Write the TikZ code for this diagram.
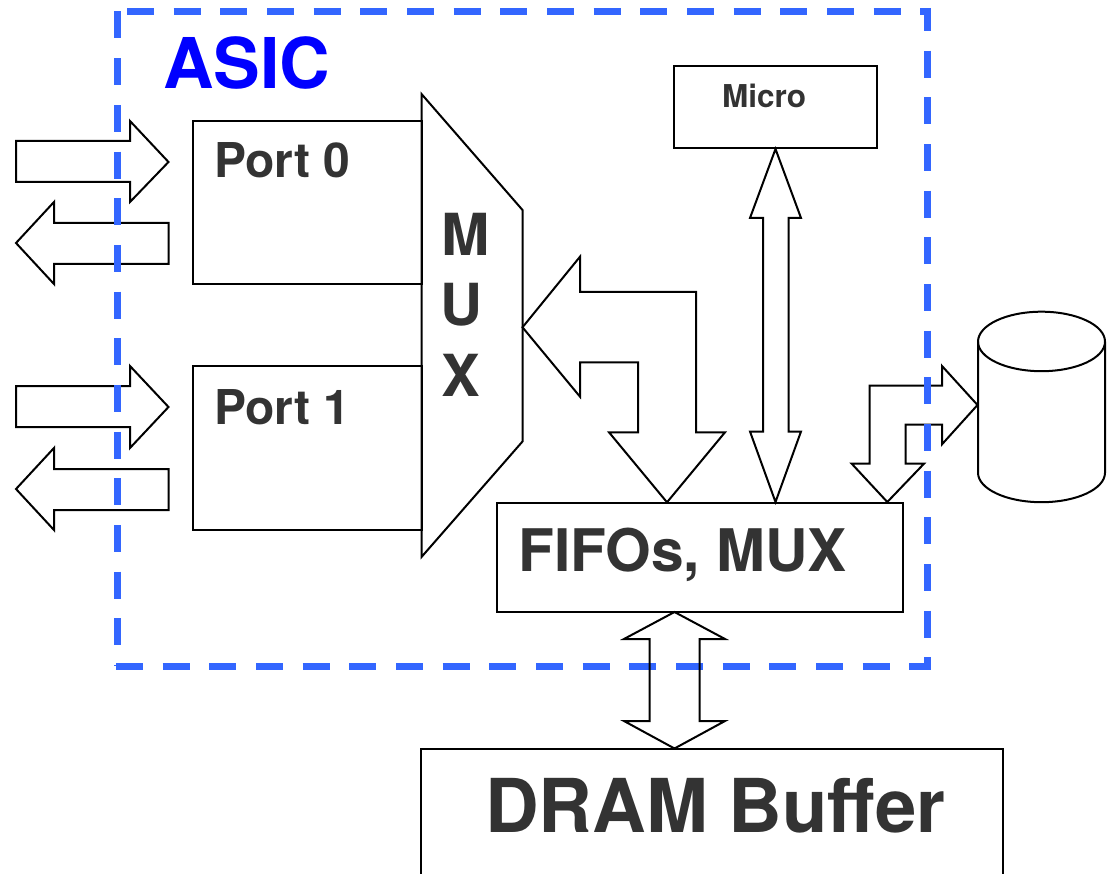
\documentclass[tikz,border=0pt]{standalone}
\usepackage{fontspec}
\setmainfont{TeX Gyre Heros}
\definecolor{txt}{HTML}{333333}
\definecolor{dashblue}{HTML}{3366FF}
\definecolor{asicblue}{HTML}{0000FF}
\tikzset{
  outline/.style={draw=black,line width=2pt,line join=miter},
  boxnode/.style={outline,rectangle,inner sep=0pt},
  frameline/.style={draw=dashblue,line width=7pt,dash pattern=on 27pt off 19.67pt},
  label/.style={anchor=base west,inner sep=0pt,text=txt},
  muxletter/.style={anchor=base,inner sep=0pt,text=txt,font=\bfseries\fontsize{58}{58}\selectfont}
}
\begin{document}
\begin{tikzpicture}[x=1pt,y=-1pt]
\useasboundingbox (0,0) rectangle (1108,874);
\clip (0,0) rectangle (1108,874);
% left arrows
\draw[outline] (16,141) -- (130,141) -- (130,121) -- (168.5,162) -- (130,202) -- (130,182) -- (16,182) -- cycle;
\draw[outline] (16,243) -- (54,202) -- (54,223) -- (168.5,223) -- (168.5,264) -- (54,264) -- (54,284) -- cycle;
\draw[outline] (16,386) -- (130,386) -- (130,366) -- (168.5,407) -- (130,448) -- (130,427) -- (16,427) -- cycle;
\draw[outline] (16,489) -- (54,448) -- (54,469) -- (168.5,469) -- (168.5,510) -- (54,510) -- (54,530) -- cycle;
% disk arrow
\draw[outline] (977.5,405) -- (942,366) -- (942,385.7) -- (869.7,385.7) -- (869.7,463.7) -- (851.7,463.7) -- (887.3,502) -- (924,463.7) -- (905.7,463.7) -- (905.7,424.7) -- (942,424.7) -- (942,444.3) -- cycle;
% dashed frame
\draw[frameline] (117.5,11.5) -- (117.5,666);
\draw[frameline] (127,11.5) -- (931,11.5);
\draw[frameline,dash phase=4pt] (927.5,8) -- (927.5,670);
\draw[frameline] (116,666.5) -- (931,666.5);
% boxes
\node[boxnode,minimum width=228.5pt,minimum height=163pt] (port0) at (307.25,202.5) {};
\node[boxnode,minimum width=228.5pt,minimum height=164pt] (port1) at (307.25,448) {};
\node[boxnode,minimum width=203pt,minimum height=82pt] (micro) at (775.5,107) {};
\node[boxnode,minimum width=405.5pt,minimum height=109.5pt] (fifo) at (699.75,557.25) {};
\node[boxnode,minimum width=582pt,minimum height=166pt] (dram) at (712,831.5) {};
% mux
\draw[outline] (421.5,94) -- (522.5,210) -- (522.5,441.5) -- (421.5,557) -- cycle;
% MUX-FIFO arrow
\draw[outline] (522.5,327.3) -- (580,256.7) -- (580,292) -- (696,292) -- (696,432.3) -- (725,432.3) -- (667,502.3) -- (609,432.3) -- (638,432.3) -- (638,362.5) -- (580,362.5) -- (580,396.7) -- cycle;
% micro-FIFO arrow
\draw[outline] (775.5,149) -- (801,218) -- (788.5,218) -- (788.5,431.5) -- (801,431.5) -- (775.5,502) -- (750,431.5) -- (763,431.5) -- (763,218) -- (750,218) -- cycle;
% FIFO-DRAM arrow
\draw[outline] (674.5,612) -- (725,639) -- (699.5,639) -- (699.5,721) -- (725,721) -- (674.5,748.5) -- (624,721) -- (649.5,721) -- (649.5,639) -- (624,639) -- cycle;
% disk
\draw[outline] (978,341.7) arc[start angle=180,end angle=360,x radius=63.5,y radius=-29.5];
\draw[outline] (978,341.7) arc[start angle=180,end angle=0,x radius=63.5,y radius=-30] -- (1105,472.7) arc[start angle=0,end angle=-180,x radius=63.5,y radius=-29.5] -- cycle;
% texts
\node[anchor=base west,inner sep=0pt,text=asicblue,font=\bfseries\fontsize{70}{70}\selectfont] (asic) at (163,89) {ASIC};
\node[label,font=\bfseries\fontsize{48}{48}\selectfont] (t0) at (214,178) {Port 0};
\node[label,font=\bfseries\fontsize{48}{48}\selectfont] (t1) at (214,424) {Port 1};
\node[label,font=\bfseries\fontsize{31.5}{31.5}\selectfont] (tm) at (722,108) {Micro};
\node[label,font=\bfseries\fontsize{58.7}{58.7}\selectfont] (tf) at (518,571) {FIFOs, MUX};
\node[label,font=\bfseries\fontsize{74.3}{74.3}\selectfont] (td) at (485,832) {DRAM Buffer};
\node[muxletter] (m1) at (465.5,256) {M};
\node[muxletter] (m2) at (461.5,326) {U};
\node[muxletter] (m3) at (461,396) {X};
\end{tikzpicture}
\end{document}
